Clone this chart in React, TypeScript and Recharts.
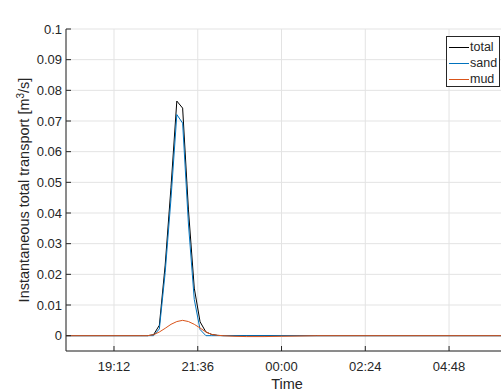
import { LineChart, Line, XAxis, YAxis, CartesianGrid } from 'recharts';

// time in hours since midnight of the first day (24+ = next day)
const times = [17.825, 20.0, 20.1667, 20.3333, 20.5, 20.6667, 20.8333, 21.0, 21.1667, 21.3333, 21.5, 21.6667, 21.8333, 22.0, 22.1667, 22.3333, 22.6667, 23.0, 23.5, 24.0, 24.5, 25.0, 30.46];
const total = [0, 0, 0, 0.0003, 0.0034, 0.023, 0.0484, 0.0765, 0.0742, 0.041, 0.0155, 0.0045, 0.0012, 0.0004, 0.0001, 0, 0, 0, 0, 0, 0, 0, 0];
const sand = [0, 0, 0, 0, 0.0022, 0.0206, 0.0447, 0.0721, 0.0693, 0.0364, 0.0118, 0.002, 0, 0, 0, 0, 0, 0, 0, 0, 0, 0, 0];
const mud = [0, 0, 0, 0.0003, 0.0012, 0.0024, 0.0037, 0.0046, 0.005, 0.0046, 0.0037, 0.0025, 0.0012, 0.0004, 0.0001, 0, -0.0002, -0.0003, -0.0003, -0.0002, -0.0001, 0, 0];

const xTicks = [19.2, 21.6, 24, 26.4, 28.8];
const yTicks = [0, 0.01, 0.02, 0.03, 0.04, 0.05, 0.06, 0.07, 0.08, 0.09, 0.1];

const seriesNames = ['total', 'sand', 'mud'];
const seriesColors = ['#000000', '#0072BD', '#D95319'];

const data = times.map((t, i) => ({ t, total: total[i], sand: sand[i], mud: mud[i] }));

const AXIS = '#262626';
const FONT = '"Liberation Sans", Arial, Helvetica, sans-serif';

const fmtTime = (h: number) => {
  const mins = Math.round((h % 24) * 60);
  const hh = Math.floor(mins / 60);
  const mm = mins % 60;
  return `${String(hh).padStart(2, '0')}:${String(mm).padStart(2, '0')}`;
};

const YTick = (props: any) => {
  const { x, y, payload } = props;
  return (
    <g>
      <line x1={x} x2={x + 5} y1={y} y2={y} stroke={AXIS} />
      <text x={x - 4} y={y + 4.5} textAnchor="end" fontSize={13} fill={AXIS} fontFamily={FONT}>
        {String(payload.value)}
      </text>
    </g>
  );
};

const BottomTick = (props: any) => {
  const { x, y, payload } = props;
  return (
    <g>
      <line x1={x} x2={x} y1={y} y2={y - 5} stroke={AXIS} />
      <text x={x} y={y + 19.5} textAnchor="middle" fontSize={13} fill={AXIS} fontFamily={FONT}>
        {fmtTime(payload.value)}
      </text>
    </g>
  );
};

const TopTick = (props: any) => {
  const { x, y } = props;
  return <line x1={x} x2={x} y1={y} y2={y + 5} stroke={AXIS} />;
};

const YLabel = () => (
  <text
    x={29}
    y={190}
    transform="rotate(-90 29 190)"
    textAnchor="middle"
    fontSize={14.5}
    fill={AXIS}
    fontFamily={FONT}
  >
    Instantaneous total transport [m
    <tspan dy={-5} fontSize={10}>3</tspan>
    <tspan dy={5}>/s]</tspan>
  </text>
);

const XLabel = () => (
  <text x={287} y={389} textAnchor="middle" fontSize={14.5} fill={AXIS} fontFamily={FONT}>
    Time
  </text>
);

const Title = () => (
  <text x={287} y={23} textAnchor="middle" fontSize={15} fontWeight="bold" fill="#000" fontFamily={FONT}>
    J-TW-2 (deep, period SW)
  </text>
);

export default function App() {
  return (
    <div style={{ position: 'absolute', left: 0, top: 0, width: 501, height: 392, overflow: 'hidden', background: '#fff' }}>
      <LineChart width={507} height={392} data={data} margin={{ top: 29, right: 0, bottom: 0, left: 0 }}>
        <CartesianGrid stroke="#e3e3e3" />
        <XAxis
          dataKey="t"
          type="number"
          domain={[17.825, 30.46]}
          allowDataOverflow
          ticks={xTicks}
          height={41}
          tickSize={0}
          tickMargin={0}
          tickLine={false}
          tick={<BottomTick />}
          stroke={AXIS}
          label={<XLabel />}
        />
        <XAxis
          xAxisId="top"
          orientation="top"
          dataKey="t"
          type="number"
          domain={[17.825, 30.46]}
          allowDataOverflow
          ticks={xTicks}
          height={0}
          tickSize={0}
          tickMargin={0}
          tickLine={false}
          tick={<TopTick />}
          stroke={AXIS}
          label={<Title />}
        />
        <YAxis
          type="number"
          domain={[-0.005, 0.1]}
          allowDataOverflow
          ticks={yTicks}
          width={66}
          tickSize={0}
          tickMargin={0}
          tickLine={false}
          tick={<YTick />}
          stroke={AXIS}
          label={<YLabel />}
        />
        {seriesNames.map((name, i) => (
          <Line
            key={name}
            type="linear"
            dataKey={name}
            stroke={seriesColors[i]}
            strokeWidth={1}
            dot={false}
            isAnimationActive={false}
          />
        ))}
      </LineChart>
      <div
        style={{
          position: 'absolute',
          left: 446,
          top: 36,
          width: 54,
          height: 51,
          border: `1px solid ${AXIS}`,
          background: '#fff',
          fontFamily: FONT,
          fontSize: 12.5,
          color: AXIS,
          paddingTop: 2,
          boxSizing: 'border-box',
        }}
      >
        {seriesNames.map((name, i) => (
          <div key={name} style={{ display: 'flex', alignItems: 'center', height: 16 }}>
            <span style={{ display: 'inline-block', width: 20, height: 1, marginLeft: 2, background: seriesColors[i] }} />
            <span style={{ marginLeft: 1, lineHeight: '16px' }}>{name}</span>
          </div>
        ))}
      </div>
    </div>
  );
}
